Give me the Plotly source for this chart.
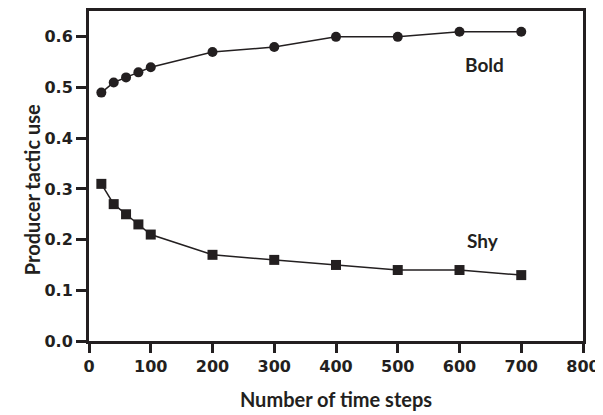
import plotly.graph_objects as go

time_steps = [20, 40, 60, 80, 100, 200, 300, 400, 500, 600, 700]
bold_use = [0.49, 0.51, 0.52, 0.53, 0.54, 0.57, 0.58, 0.60, 0.60, 0.61, 0.61]
shy_use = [0.31, 0.27, 0.25, 0.23, 0.21, 0.17, 0.16, 0.15, 0.14, 0.14, 0.13]
x_ticks = [0, 100, 200, 300, 400, 500, 600, 700, 800]
y_ticks = [0.0, 0.1, 0.2, 0.3, 0.4, 0.5, 0.6]

ink = "#231f20"
fig = go.Figure()
fig.add_trace(go.Scatter(x=time_steps, y=bold_use, mode="lines+markers", name="Bold",
                         line=dict(color=ink, width=1.5),
                         marker=dict(symbol="circle", size=10, color=ink)))
fig.add_trace(go.Scatter(x=time_steps, y=shy_use, mode="lines+markers", name="Shy",
                         line=dict(color=ink, width=1.5),
                         marker=dict(symbol="square", size=10, color=ink)))

lab_font = dict(family="Lato, Open Sans, sans-serif", size=19, color=ink, weight="bold")
fig.add_annotation(x=641, y=0.545, text="Bold", showarrow=False, font=lab_font)
fig.add_annotation(x=638, y=0.199, text="Shy", showarrow=False, font=lab_font)

tick_font = dict(family="DejaVu Sans, sans-serif", size=16, color=ink, weight="bold")
title_font = dict(family="Lato, Open Sans, sans-serif", size=20, color=ink, weight="bold")

fig.add_annotation(xref="paper", yref="paper", x=-0.145, y=0.458, text="Producer tactic use",
                   textangle=-90, showarrow=False, font=title_font)

# the page body has a default 8px margin; the figure is sized to fit the 603x415 window
fig.update_layout(
    width=595, height=407,
    margin=dict(l=81, r=20, t=3, b=74, autoexpand=False),
    paper_bgcolor="white", plot_bgcolor="white",
    showlegend=False,
    xaxis=dict(range=[0, 800], tickvals=x_ticks, ticks="outside", ticklen=9, tickwidth=2.5,
               tickcolor=ink, showline=True, linecolor=ink, linewidth=3, mirror=True,
               showgrid=False, zeroline=False, tickfont=tick_font, automargin=False,
               ticklabeloverflow="allow",
               title=dict(text="Number of time steps", font=title_font, standoff=18)),
    yaxis=dict(range=[0, 0.651], tickvals=y_ticks, tickformat=".1f", ticks="outside", ticklen=10,
               tickwidth=2.5, tickcolor=ink, showline=True, linecolor=ink, linewidth=3, mirror=True,
               showgrid=False, zeroline=False, tickfont=tick_font, automargin=False,
               ticklabeloverflow="allow"),
)
fig.write_html("out.html", post_script="document.body.style.overflow='hidden';")
